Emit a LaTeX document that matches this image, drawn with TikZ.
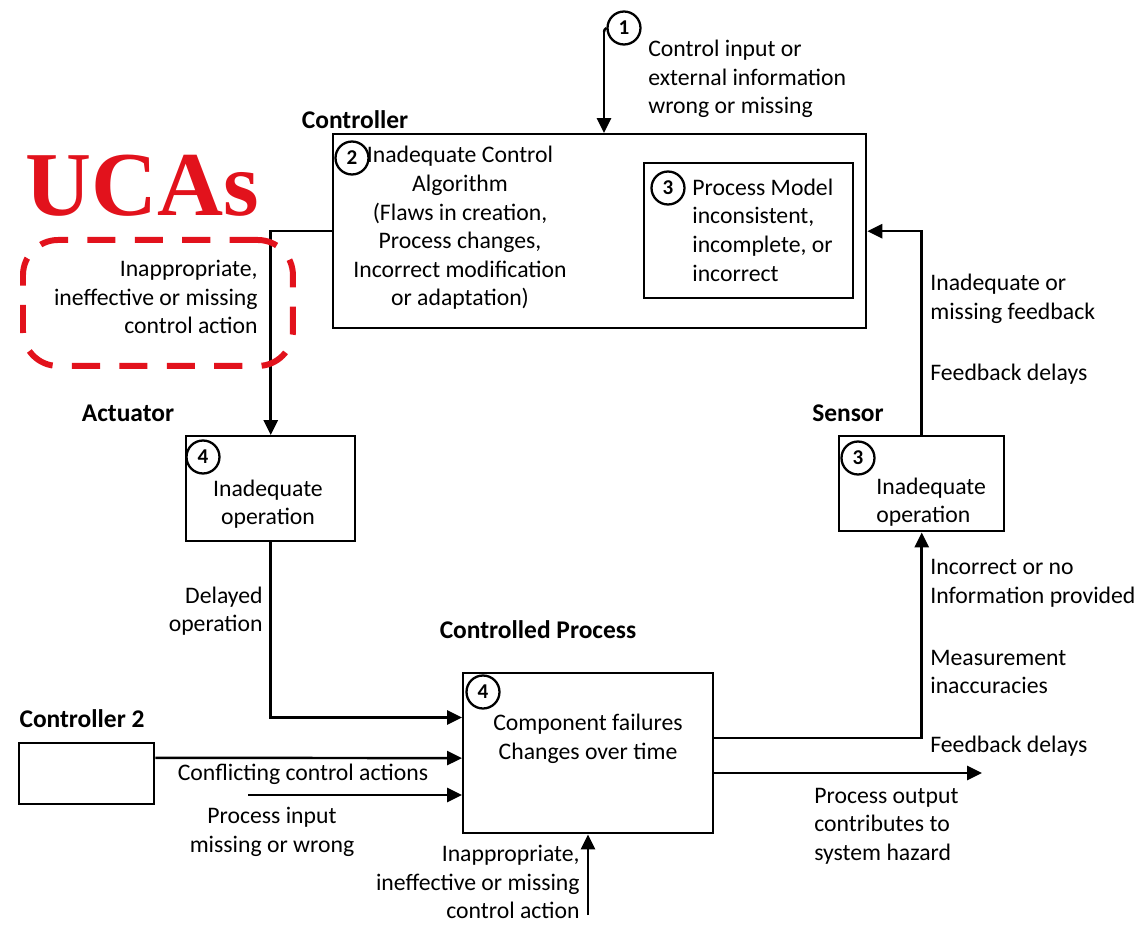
\documentclass[tikz,border=0pt]{standalone}
\usepackage{fontspec}
\setmainfont{Carlito}
\newfontfamily\ucafont{Liberation Serif}
\usetikzlibrary{arrows.meta,calc}
\definecolor{ucared}{RGB}{226,18,28}

\begin{document}
\begin{tikzpicture}[x=0.02cm,y=-0.02cm,
  box/.style={draw, line width=1.4pt, inner sep=0pt, anchor=north west},
  num/.style={draw, circle, line width=1.3pt, minimum size=0.66cm, inner sep=0pt,
    font=\fontsize{12}{14}\selectfont\bfseries},
  lbl/.style={font=\fontsize{13.5}{16.3}\selectfont, inner sep=0pt},
  ttl/.style={font=\fontsize{14.5}{17}\selectfont\bfseries, inner sep=0pt},
  conn/.style={line width=1.4pt, -{Triangle[length=8.5pt,width=8pt]}},
  wire/.style={line width=1.4pt},
]
\useasboundingbox (0,0) rectangle (1144,926);

% ---- blocks ----
\node[box, minimum width=10.66cm, minimum height=3.88cm] (ctrl) at (332,133) {};
\node[box, minimum width=4.18cm, minimum height=2.70cm] (pmodel) at (643,162) {};
\node[box, minimum width=3.38cm, minimum height=2.10cm] (act) at (185,435) {};
\node[box, minimum width=3.30cm, minimum height=1.90cm] (sens) at (838,435) {};
\node[box, minimum width=5.00cm, minimum height=3.20cm] (proc) at (462,672) {};
\node[box, minimum width=2.70cm, minimum height=1.22cm] (ctrltwo) at (18,742) {};

% ---- numbered markers ----
\node[num] (n1) at (624,28) {1};
\node[num] (n2) at (352,158) {2};
\node[num] (n3a) at (668,188) {3};
\node[num] (n4a) at (203,457) {4};
\node[num] (n3b) at (858,458) {3};
\node[num] (n4b) at (483,692) {4};

% ---- titles ----
\node[ttl] (tctrl) at (355,120) {Controller};
\node[ttl] (tact) at (128,413) {Actuator};
\node[ttl] (tsens) at (848,413) {Sensor};
\node[ttl] (tproc) at (538,630) {Controlled Process};
\node[ttl] (tctrltwo) at (82,719) {Controller 2};

% ---- block texts ----
\node[lbl, align=center] (talg) at (460,228) {Inadequate Control\\Algorithm\\(Flaws in creation,\\Process changes,\\Incorrect modification\\or adaptation)};
\node[lbl, align=left, anchor=west] (tpm) at (692,230) {Process Model\\inconsistent,\\incomplete, or\\incorrect};
\node[lbl, align=center] (tacto) at (268,504) {Inadequate\\operation};
\node[lbl, align=left, anchor=west] (tsenso) at (876,502) {Inadequate\\operation};
\node[lbl, align=center] (tproco) at (588,739) {Component failures\\Changes over time};

% ---- connectors ----
\coordinate (in1) at (604,32);
\draw[wire] (in1) to[out=85,in=210] (n1.west);
\draw[conn] (in1) -- (in1 |- ctrl.north);
\draw[conn] (ctrl.west) -| (act.north);
\draw[conn] (act.south) |- ($(proc.north west)!0.28!(proc.south west)$);
\draw[conn] ($(ctrltwo.north east)!0.25!(ctrltwo.south east)$) -- ($(proc.north west)!0.53!(proc.south west)$);
\coordinate (pin) at (248,795);
\draw[conn] (pin) -- (pin -| proc.west);
\coordinate (bin) at (588,915);
\draw[conn] (bin) -- (bin |- proc.south);
\draw[conn] ($(proc.north east)!0.406!(proc.south east)$) -| (sens.south);
\coordinate (pout) at (982,773);
\draw[conn] (pout -| proc.east) -- (pout);
\draw[conn] (sens.north) |- (ctrl.east);

% ---- connector labels ----
\node[lbl, align=left, anchor=west] (l1) at (648,79) {Control input or\\external information\\wrong or missing};
\node[lbl, align=left, anchor=west] (lfb1) at (930,299) {Inadequate or\\missing feedback};
\node[lbl, anchor=west] (lfb2) at (930,374) {Feedback delays};
\node[lbl, align=right, anchor=east] (ldel) at (263,611) {Delayed\\operation};
\node[lbl] (lconf) at (303,774) {Conflicting control actions};
\node[lbl, align=center] (lpin) at (272,832) {Process input\\missing or wrong};
\node[lbl, align=right, anchor=east] (lbot) at (580,882) {Inappropriate,\\ineffective or missing\\control action};
\node[lbl, align=left, anchor=west] (linc) at (930,583) {Incorrect or no\\Information provided};
\node[lbl, align=left, anchor=west] (lmeas) at (930,672) {Measurement\\inaccuracies};
\node[lbl, anchor=west] (lfb3) at (930,746) {Feedback delays};
\node[lbl, align=left, anchor=west] (lout) at (814,826) {Process output\\contributes to\\system hazard};

% ---- UCA highlight ----
\node[text=ucared, inner sep=0pt, font=\fontsize{52}{56}\selectfont\ucafont\bfseries] (uca) at (142,186) {UCAs};
\node[draw=ucared, line width=3.4pt, dash pattern=on 16pt off 11pt, rounded corners=20pt,
      minimum width=5.4cm, minimum height=2.52cm, anchor=north west] (ucabox) at (20,237) {};
\node[lbl, align=right, anchor=east] (luca) at (258,297) {Inappropriate,\\ineffective or missing\\control action};
\end{tikzpicture}
\end{document}
